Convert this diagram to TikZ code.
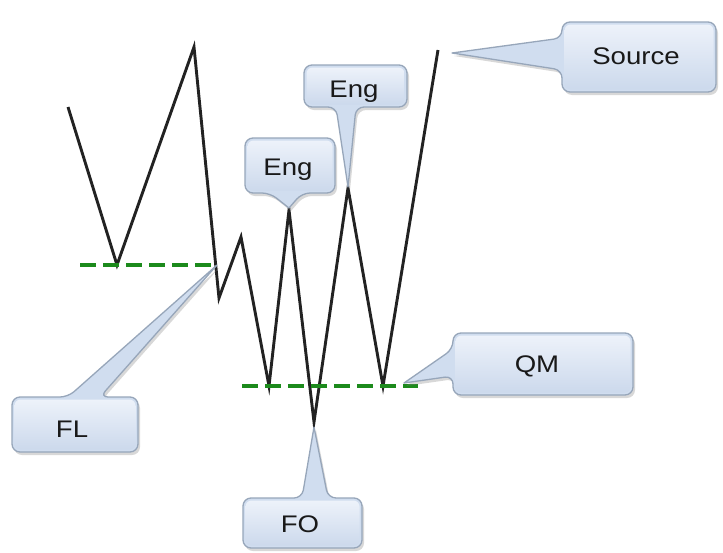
\documentclass[tikz,border=0pt]{standalone}
\usepackage{fontspec}
\setmainfont{Liberation Sans}[FakeStretch=1.15]
\usetikzlibrary{shadows}
\definecolor{zig}{HTML}{222222}
\definecolor{lvl}{HTML}{1C8A1C}
\definecolor{cfill}{HTML}{D0DDEF}
\definecolor{cborder}{HTML}{97A6BA}
\definecolor{ctop}{HTML}{EDF2FA}
\definecolor{cbot}{HTML}{CCD9EC}
\begin{document}
\begin{tikzpicture}[x=1pt,y=-1pt,
  zigline/.style={draw=zig, line width=2.9pt, line join=miter},
  level/.style={draw=lvl, line width=4.5pt, dash pattern=on 16pt off 7pt},
  calloutbody/.style={fill=cfill, draw=cborder, line width=1.3pt, line cap=round,
    line join=round, rounded corners=8pt,
    drop shadow={shadow xshift=2pt, shadow yshift=-3pt, opacity=0.3}},
  calloutface/.style={top color=ctop, bottom color=cbot, rounded corners=6pt},
  lbl/.style={font=\fontsize{24}{28}\selectfont, text=black!90, inner sep=0pt, anchor=base}]
\useasboundingbox (0,0) rectangle (723,552);
\fill[white] (0,0) rectangle (723,552);

% zigzag price line
\draw[zigline] (68,107) -- (117,265) -- (194,47) -- (219,298) -- (241,237) -- (269,386)
  -- (289,210) -- (314,422) -- (348,188) -- (383,386) -- (438,50);

% levels
\draw[level] (80,265) -- (216,265);
\draw[level] (242,386) -- (418,386);

% Source callout
\path[calloutbody] (452,53) -- (562,38) -- (562,22) -- (716,22) -- (716,92) -- (562,92) -- (562,70) -- (452,53);
\path[calloutface] (564.5,24.5) rectangle (713.5,89.5);
\node[lbl] (source) at (636,64) {Source};

% upper Eng callout
\path[calloutbody] (348,187) -- (356,107) -- (407,107) -- (407,65) -- (304,65) -- (304,107) -- (336,107) -- (348,187);
\path[calloutface] (306.5,67.5) rectangle (404.5,104.5);
\node[lbl] (engA) at (354,97) {Eng};

% lower Eng callout
\path[calloutbody] (289,208) -- (302,193) -- (335,193) -- (335,138) -- (245,138) -- (245,193) -- (270,193) -- (289,208);
\path[calloutface] (247.5,140.5) rectangle (332.5,190.5);
\node[lbl] (engB) at (288,175) {Eng};

% FL callout
\path[calloutbody] (217,265) -- (100,397) -- (138,397) -- (138,452) -- (12,452) -- (12,397) -- (68,397) -- (217,265);
\path[calloutface] (14.5,399.5) rectangle (135.5,449.5);
\node[lbl] (fl) at (72,437) {FL};

% FO callout
\path[calloutbody] (314,427) -- (328,498) -- (362,498) -- (362,548) -- (243,548) -- (243,498) -- (302,498) -- (314,427);
\path[calloutface] (245.5,500.5) rectangle (359.5,545.5);
\node[lbl] (fo) at (300,532) {FO};

% QM callout
\path[calloutbody] (404,383) -- (453,349) -- (453,333) -- (633,333) -- (633,395) -- (453,395) -- (453,376) -- (404,383);
\path[calloutface] (455.5,335.5) rectangle (630.5,392.5);
\node[lbl] (qm) at (537,372) {QM};
\end{tikzpicture}
\end{document}
